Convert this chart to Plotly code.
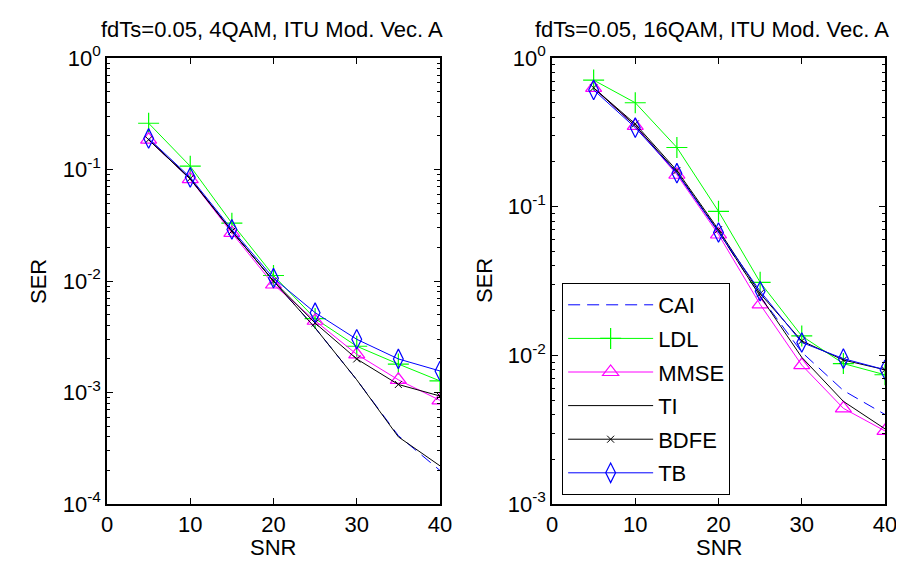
import plotly.graph_objects as go

snr = [5, 10, 15, 20, 25, 30, 35, 40]
series_names = ["CAI", "LDL", "MMSE", "TI", "BDFE", "TB"]

# Left: 4QAM
cai_4 = [0.185, 0.082, 0.028, 0.0100, 0.0038, 0.0013, 0.00041, 0.00020]
ldl_4 = [0.26, 0.107, 0.033, 0.0112, 0.0046, 0.0026, 0.0018, 0.00127]
mmse_4 = [0.185, 0.082, 0.027, 0.0093, 0.0044, 0.0022, 0.0013, 0.00085]
ti_4 = [0.185, 0.082, 0.028, 0.0100, 0.0038, 0.0013, 0.00040, 0.00022]
bdfe_4 = [0.185, 0.083, 0.028, 0.0100, 0.0042, 0.0020, 0.00118, 0.00093]
tb_4 = [0.19, 0.085, 0.029, 0.0106, 0.0052, 0.0030, 0.0020, 0.00156]

# Right: 16QAM
cai_16 = [0.63, 0.35, 0.17, 0.068, 0.025, 0.0105, 0.0058, 0.0040]
ldl_16 = [0.71, 0.50, 0.25, 0.093, 0.031, 0.0135, 0.0088, 0.0074]
mmse_16 = [0.63, 0.35, 0.164, 0.065, 0.022, 0.0086, 0.0044, 0.0031]
ti_16 = [0.63, 0.35, 0.17, 0.068, 0.025, 0.0097, 0.0049, 0.0032]
bdfe_16 = [0.63, 0.36, 0.175, 0.070, 0.026, 0.0125, 0.0093, 0.0080]
tb_16 = [0.61, 0.34, 0.168, 0.067, 0.027, 0.0122, 0.0095, 0.0080]

titles = ["fdTs=0.05, 4QAM, ITU Mod. Vec. A", "fdTs=0.05, 16QAM, ITU Mod. Vec. A"]
x_ticks = [0, 10, 20, 30, 40]

FONT = "Liberation Sans, Arial, sans-serif"
FS = 22

styles = {
    "CAI": dict(line=dict(color="#0000ff", width=1, dash="12px,7px"), mode="lines"),
    "LDL": dict(line=dict(color="#00ff00", width=1), mode="lines+markers",
                marker=dict(symbol="cross-thin-open", size=15, line=dict(color="#00ff00", width=1.2))),
    "MMSE": dict(line=dict(color="#ff00ff", width=1), mode="lines+markers",
                 marker=dict(symbol="triangle-up-open", size=14, line=dict(color="#ff00ff", width=1.2))),
    "TI": dict(line=dict(color="#000000", width=1), mode="lines"),
    "BDFE": dict(line=dict(color="#000000", width=1), mode="lines+markers",
                 marker=dict(symbol="x-thin-open", size=7, line=dict(color="#000000", width=1))),
    "TB": dict(line=dict(color="#0000ff", width=1), mode="lines+markers",
               marker=dict(symbol="diamond-tall-open", size=14, line=dict(color="#0000ff", width=1.2))),
}

left = dict(zip(series_names, [cai_4, ldl_4, mmse_4, ti_4, bdfe_4, tb_4]))
right = dict(zip(series_names, [cai_16, ldl_16, mmse_16, ti_16, bdfe_16, tb_16]))

fig = go.Figure()
for name in series_names:
    fig.add_trace(go.Scatter(x=snr, y=left[name], name=name, showlegend=False,
                             legendgroup=name, xaxis="x", yaxis="y", **styles[name]))
for name in series_names:
    fig.add_trace(go.Scatter(x=snr, y=right[name], name=name, showlegend=True,
                             legendgroup=name, xaxis="x2", yaxis="y2", **styles[name]))


def minor_vals(lo, hi):
    vals = []
    for k in range(lo, hi):
        for m in range(2, 10):
            vals.append(m * 10 ** k)
    return vals


def yaxis_cfg(lo, anchor):
    return dict(
        type="log", range=[lo, 0], anchor=anchor,
        tickmode="array",
        tickvals=[10 ** k for k in range(lo, 1)],
        ticktext=["10<sup>%d</sup>" % k for k in range(lo, 1)],
        ticks="inside", ticklen=6, tickcolor="black", tickwidth=1,
        showline=True, linecolor="black", linewidth=1.5, mirror="ticks",
        showgrid=False, zeroline=False,
        minor=dict(tickmode="array", tickvals=minor_vals(lo, 0), ticks="inside",
                   ticklen=3, tickcolor="black", showgrid=False),
        tickfont=dict(family=FONT, size=FS, color="black"),
    )


def xaxis_cfg(domain, anchor):
    return dict(
        domain=domain, range=[0, 40], anchor=anchor,
        tickmode="array", tickvals=x_ticks, ticktext=[str(v) for v in x_ticks],
        ticks="inside", ticklen=6, tickcolor="black", tickwidth=1,
        showline=True, linecolor="black", linewidth=1.5, mirror="ticks",
        showgrid=False, zeroline=False,
        tickfont=dict(family=FONT, size=FS, color="black"),
    )


fig.update_layout(
    width=904, height=561,
    margin=dict(l=99, r=27, t=50, b=65),
    paper_bgcolor="white", plot_bgcolor="white",
    font=dict(family=FONT, size=FS, color="black"),
    xaxis=xaxis_cfg([0, 0.428], "y"),
    yaxis=yaxis_cfg(-4, "x"),
    xaxis2=xaxis_cfg([0.572, 1.0], "y2"),
    yaxis2=yaxis_cfg(-3, "x2"),
    legend=dict(
        x=0.585, y=0.4955, xanchor="left", yanchor="top",
        bgcolor="white", bordercolor="black", borderwidth=1,
        font=dict(family=FONT, size=FS, color="black"),
        itemwidth=85, tracegroupgap=2,
    ),
)

TS = 22
annotations = [
    dict(text=titles[0], x=0.212, y=1.0628, xref="paper", yref="paper",
         showarrow=False, xanchor="center", yanchor="middle", font=dict(size=TS)),
    dict(text=titles[1], x=0.778, y=1.0628, xref="paper", yref="paper",
         showarrow=False, xanchor="center", yanchor="middle", font=dict(size=TS)),
    dict(text="SNR", x=0.214, y=-0.098, xref="paper", yref="paper",
         showarrow=False, xanchor="center", yanchor="middle", font=dict(size=FS)),
    dict(text="SNR", x=0.786, y=-0.098, xref="paper", yref="paper",
         showarrow=False, xanchor="center", yanchor="middle", font=dict(size=FS)),
    dict(text="SER", x=-0.0887, y=0.5, xref="paper", yref="paper", textangle=-90,
         showarrow=False, xanchor="center", yanchor="middle", font=dict(size=FS)),
    dict(text="SER", x=0.4846, y=0.5, xref="paper", yref="paper", textangle=-90,
         showarrow=False, xanchor="center", yanchor="middle", font=dict(size=FS)),
]
fig.update_layout(annotations=annotations)

fig.write_html("out.html")
